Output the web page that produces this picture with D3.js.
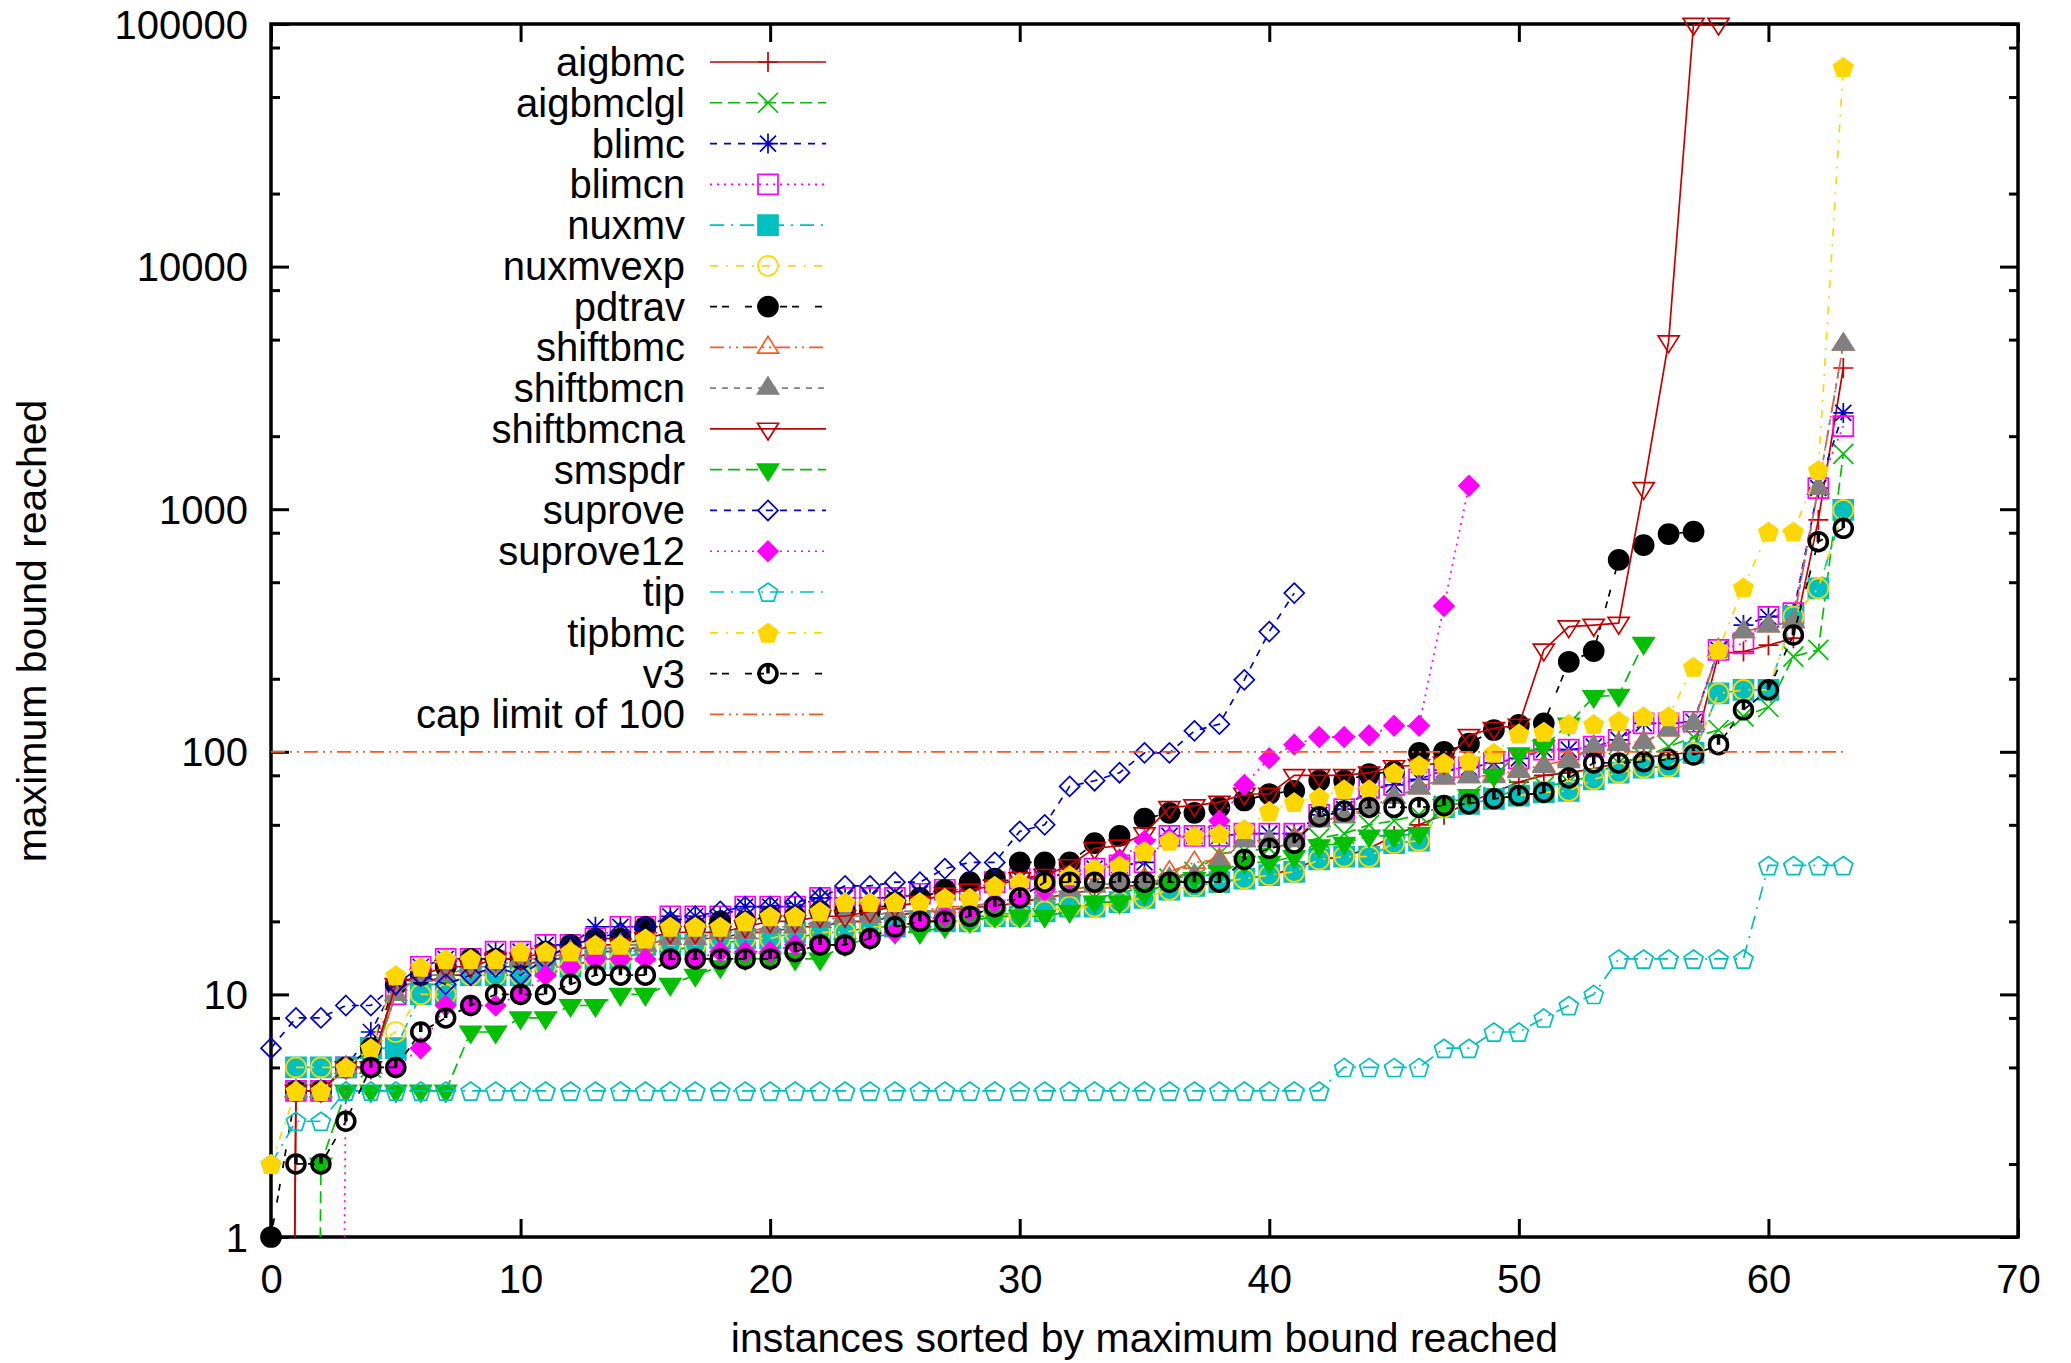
<!DOCTYPE html>
<html>
<head>
<meta charset="utf-8">
<script src="https://cdn.jsdelivr.net/npm/d3@7/dist/d3.min.js"></script>
<style>
  body { margin: 0; background: #fff; }
  svg { display: block; }
  text { font-family: "Liberation Sans", Arial, Helvetica, sans-serif; fill: #000; }
</style>
</head>
<body>
<div id="chart"></div>
<script>
// x index = instance rank; null = solver has no entry, 0 = below the axis (line drops out)
const xTicks = [0, 10, 20, 30, 40, 50, 60, 70];
const yTicks = [1, 10, 100, 1000, 10000, 100000];
const yMinorSteps = [2, 5, 8];

const aigbmc = [0, 4, 4, 5, 5, 11, 11, 12, 12, 13, 13, 14, 14, 15, 15, 16,
  17, 17, 17, 18, 18, 19, 19, 20, 20, 21, 22, 22, 23, 23, 24, 25,
  26, 27, 28, 28, 29, 29, 29, 30, 31, 33, 36, 37, 40, 45, 50, 55,
  62, 68, 75, 80, 82, 85, 90, 95, 97, 100, 253, 259, 275, 294, 903, 3820];
const aigbmclgl = [null, 4, 4, 5, 5, 10, 11, 11, 12, 12, 12, 13, 13, 14, 14, 15,
  15, 16, 16, 17, 17, 17, 18, 18, 19, 19, 20, 20, 21, 21, 22, 23,
  24, 25, 26, 28, 30, 32, 38, 39, 40, 42, 44, 46, 50, 52, 55, 60,
  62, 65, 70, 72, 75, 80, 90, 95, 105, 115, 123, 140, 153, 247, 263, 1690];
const blimc = [null, 4, 4, 5, 7, 11, 13, 14, 14, 15, 15, 16, 16, 19, 19, 19,
  21, 21, 21, 23, 23, 23, 25, 25, 25, 25, 26, 27, 27, 29, 30, 30,
  32, 33, 34, 35, 45, 45, 45, 46, 46, 46, 55, 58, 70, 73, 77, 84,
  86, 90, 94, 102, 102, 105, 112, 131, 131, 133, 263, 333, 360, 373, 1222, 2494];
const blimcn = [null, 4, 4, 5, 6, 10, 13, 14, 14, 15, 15, 16, 16, 17, 19, 19,
  21, 21, 21, 23, 23, 23, 25, 25, 25, 25, 26, 27, 27, 29, 30, 30,
  32, 33, 34, 35, 45, 45, 45, 46, 46, 46, 55, 58, 71, 73, 77, 84,
  86, 90, 94, 102, 102, 105, 112, 131, 131, 133, 263, 280, 360, 373, 1222, 2200];
const nuxmv = [null, 5, 5, 5, 6, 6, 10, 10, 12, 12, 12, 13, 13, 14, 14, 16,
  16, 16, 17, 17, 17, 18, 18, 18, 19, 19, 20, 20, 20, 21, 21, 22,
  23, 23, 24, 25, 27, 28, 29, 30, 31, 32, 36, 37, 37, 42, 43, 59,
  61, 64, 66, 68, 69, 77, 82, 86, 87, 99, 174, 180, 180, 361, 472, 993];
const nuxmvexp = [null, 5, 5, 5, 6, 7, 10, 10, 12, 12, 12, 13, 13, 14, 14, 16,
  16, 16, 17, 17, 17, 18, 18, 18, 19, 19, 20, 20, 20, 21, 21, 22,
  23, 23, 24, 25, 27, 28, 29, 30, 31, 32, 36, 37, 37, 42, 43, 59,
  61, 64, 66, 68, 69, 77, 82, 86, 87, 99, 174, 180, 180, 361, 472, 993];
const pdtrav = [1, 4, 4, 5, 6, 11, 12, 13, 14, 14, 14, 15, 16, 17, 17, 19,
  19, 19, 20, 20, 21, 21, 22, 22, 22, 24, 25, 27, 29, 30, 35, 35,
  35, 42, 45, 53, 56, 56, 59, 63, 67, 69, 76, 76, 81, 83, 99, 100,
  108, 123, 129, 131, 235, 260, 618, 711, 790, 808];
const shiftbmc = [null, 4, 4, 5, 5, 10, 12, 12, 13, 13, 14, 14, 15, 15, 16, 16,
  17, 17, 18, 18, 19, 19, 20, 21, 21, 22, 22, 23, 23, 24, 25, 26,
  27, 28, 29, 30, 32, 35, 36, 43, 43, 44, 52, 54, 59, 65, 71, 78,
  79, 80, 84, 88, 93, 105, 108, 110, 123, 131, 263, 313, 330, 344, 1222, 4786];
const shiftbmcn = [null, 4, 4, 5, 5, 10, 12, 12, 13, 13, 14, 14, 15, 15, 16, 16,
  17, 17, 18, 18, 19, 19, 20, 21, 21, 22, 22, 22, 23, 24, 25, 26,
  27, 28, 29, 29, 30, 31, 35, 43, 43, 43, 52, 54, 59, 65, 71, 78,
  79, 79, 83, 87, 91, 105, 107, 109, 123, 131, 263, 313, 330, 344, 1222, 4786];
const shiftbmcna = [0, 4, 4, 5, 5, 11, 12, 13, 13, 14, 14, 15, 15, 16, 16, 17,
  18, 18, 18, 19, 20, 20, 21, 21, 22, 23, 24, 26, 27, 28, 30, 31,
  34, 40, 41, 46, 59, 60, 62, 67, 67, 80, 80, 80, 82, 87, 88, 90,
  117, 125, 129, 263, 328, 333, 339, 1219, 4906, 100000, 100000];
const smspdr = [0, 0, 2, 4, 4, 4, 4, 4, 7, 7, 8, 8, 9, 9, 10, 10,
  11, 12, 13, 14, 14, 14, 14, 16, 17, 18, 18, 19, 20, 21, 21, 21,
  22, 24, 24, 26, 29, 30, 32, 35, 35, 37, 41, 42, 45, 45, 46, 60,
  66, 80, 98, 105, 130, 169, 171, 280];
const suprove = [6, 8, 8, 9, 9, 11, 12, 11, 12, 13, 12, 14, 16, 17, 18, 19,
  20, 21, 22, 23, 23, 24, 25, 28, 28, 29, 29, 33, 35, 35, 47, 50,
  72, 76, 82, 99, 99, 122, 130, 198, 313, 451];
const suprove12 = [0, 0, 0, 5, 5, 5, 6, 9, 9, 9, 10, 12, 13, 14, 14, 14,
  14, 14, 15, 15, 15, 16, 16, 16, 17, 18, 20, 21, 22, 24, 25, 27,
  30, 33, 36, 43, 44, 45, 52, 73, 94, 107, 115, 115, 117, 128, 128, 399,
  1250];
const tip = [2, 3, 3, 4, 4, 4, 4, 4, 4, 4, 4, 4, 4, 4, 4, 4,
  4, 4, 4, 4, 4, 4, 4, 4, 4, 4, 4, 4, 4, 4, 4, 4,
  4, 4, 4, 4, 4, 4, 4, 4, 4, 4, 4, 5, 5, 5, 5, 6,
  6, 7, 7, 8, 9, 10, 14, 14, 14, 14, 14, 14, 34, 34, 34, 34];
const tipbmc = [2, 4, 4, 5, 6, 12, 13, 14, 14, 14, 15, 15, 15, 16, 16, 17,
  19, 19, 19, 20, 21, 21, 22, 24, 24, 24, 24, 25, 25, 28, 29, 29,
  31, 33, 34, 39, 43, 45, 46, 48, 57, 62, 65, 70, 70, 82, 88, 90,
  92, 99, 119, 121, 130, 130, 134, 140, 140, 224, 263, 476, 808, 808, 1450, 66500];
const v3 = [null, 2, 2, 3, 5, 5, 7, 8, 9, 10, 10, 10, 11, 12, 12, 12,
  14, 14, 14, 14, 14, 15, 16, 16, 17, 19, 20, 20, 21, 23, 25, 29,
  29, 29, 29, 29, 29, 29, 29, 36, 40, 42, 54, 57, 59, 59, 59, 60,
  61, 64, 66, 68, 78, 90, 90, 91, 93, 97, 107, 149, 180, 303, 735, 834];
const capX = [0, 63];
const capY = [100, 100];

const RED = '#c80000', GREEN = '#00c000', BLUE = '#0000cc', MAGENTA = '#ff00ff',
  CYAN = '#00c0c0', GOLD = '#ffd700', BLACK = '#000000', ORANGE = '#ff5722', GRAY = '#808080';

const series = [
  { name: 'aigbmc', values: aigbmc, color: RED, dash: null, mark: 'plus' },
  { name: 'aigbmclgl', values: aigbmclgl, color: GREEN, dash: '12,6', mark: 'cross' },
  { name: 'blimc', values: blimc, color: BLUE, dash: '7,7', mark: 'star' },
  { name: 'blimcn', values: blimcn, color: MAGENTA, dash: '2,5', mark: 'square' },
  { name: 'nuxmv', values: nuxmv, color: CYAN, dash: '14,7,2,7', mark: 'squareFilled' },
  { name: 'nuxmvexp', values: nuxmvexp, color: GOLD, dash: '8,8,2,8', mark: 'circle' },
  { name: 'pdtrav', values: pdtrav, color: BLACK, dash: '7,5,7,16', mark: 'circleFilled' },
  { name: 'shiftbmc', values: shiftbmc, color: ORANGE, dash: '14,5,2,5,2,5', mark: 'triUp' },
  { name: 'shiftbmcn', values: shiftbmcn, color: GRAY, dash: '6,6', mark: 'triUpFilled' },
  { name: 'shiftbmcna', values: shiftbmcna, color: RED, dash: null, mark: 'triDown' },
  { name: 'smspdr', values: smspdr, color: GREEN, dash: '12,6', mark: 'triDownFilled' },
  { name: 'suprove', values: suprove, color: BLUE, dash: '7,7', mark: 'diamond' },
  { name: 'suprove12', values: suprove12, color: MAGENTA, dash: '2,5', mark: 'diamondFilled' },
  { name: 'tip', values: tip, color: CYAN, dash: '14,7,2,7', mark: 'pentagon' },
  { name: 'tipbmc', values: tipbmc, color: GOLD, dash: '8,8,2,8', mark: 'pentagonFilled' },
  { name: 'v3', values: v3, color: BLACK, dash: '7,5,7,16', mark: 'clock' }
];

const W = 2071, H = 1363;
const plot = { left: 271, right: 2018, top: 24, bottom: 1237 };
const FONT = 40;

const svg = d3.select('#chart').append('svg')
  .attr('width', W).attr('height', H)
  .attr('viewBox', `0 0 ${W} ${H}`);

const x = d3.scaleLinear().domain([0, 70]).range([plot.left, plot.right]);
const y = d3.scaleLog().domain([1, 100000]).range([plot.bottom, plot.top]);
const yv = (v) => y(v > 0 ? v : 1e-12);

svg.append('defs').append('clipPath').attr('id', 'plotClip')
  .append('rect')
  .attr('x', plot.left).attr('y', plot.top)
  .attr('width', plot.right - plot.left).attr('height', plot.bottom - plot.top);

// axes: ticks point inwards on all four sides
const yMinor = [];
yTicks.slice(0, -1).forEach((d) => yMinorSteps.forEach((m) => yMinor.push(d * m)));

function styleAxis(g) {
  g.select('.domain').remove();
  g.selectAll('line').attr('stroke', '#000').attr('stroke-width', 3);
  g.selectAll('text')
    .attr('font-size', FONT)
    .attr('font-family', '"Liberation Sans", Arial, sans-serif')
    .attr('fill', '#000');
}

svg.append('g')
  .attr('transform', `translate(${plot.left},0)`)
  .call(d3.axisLeft(y).tickValues(yTicks).tickFormat(d3.format('d')).tickSize(-18).tickPadding(23))
  .call(styleAxis)
  .selectAll('text').attr('dy', '0.35em');
svg.append('g')
  .attr('transform', `translate(${plot.left},0)`)
  .call(d3.axisLeft(y).tickValues(yMinor).tickFormat('').tickSize(-9))
  .call(styleAxis);
svg.append('g')
  .attr('transform', `translate(${plot.right},0)`)
  .call(d3.axisRight(y).tickValues(yTicks).tickFormat('').tickSize(-18))
  .call(styleAxis);
svg.append('g')
  .attr('transform', `translate(${plot.right},0)`)
  .call(d3.axisRight(y).tickValues(yMinor).tickFormat('').tickSize(-9))
  .call(styleAxis);
svg.append('g')
  .attr('transform', `translate(0,${plot.bottom})`)
  .call(d3.axisBottom(x).tickValues(xTicks).tickFormat(d3.format('d')).tickSize(-18).tickPadding(28))
  .call(styleAxis)
  .selectAll('text').attr('dy', '0.71em');
svg.append('g')
  .attr('transform', `translate(0,${plot.top})`)
  .call(d3.axisTop(x).tickValues(xTicks).tickFormat('').tickSize(-18))
  .call(styleAxis);

svg.append('rect')
  .attr('x', plot.left).attr('y', plot.top)
  .attr('width', plot.right - plot.left).attr('height', plot.bottom - plot.top)
  .attr('fill', 'none').attr('stroke', '#000').attr('stroke-width', 3.5);

svg.append('text')
  .attr('x', (plot.left + plot.right) / 2).attr('y', 1352)
  .attr('text-anchor', 'middle').attr('font-size', 41)
  .text('instances sorted by maximum bound reached');
svg.append('text')
  .attr('transform', 'translate(46,631) rotate(-90)')
  .attr('text-anchor', 'middle').attr('font-size', 41)
  .text('maximum bound reached');

// point symbols, roughly gnuplot's pt 1..15 plus the v3 clock glyph
function poly(p, pts) {
  pts.forEach(([px, py], i) => (i ? p.lineTo(px, py) : p.moveTo(px, py)));
  p.closePath();
}
function markPath(kind) {
  const p = d3.path();
  const s = 10;
  switch (kind) {
    case 'plus':
      p.moveTo(-s, 0); p.lineTo(s, 0); p.moveTo(0, -s); p.lineTo(0, s); break;
    case 'cross':
      p.moveTo(-s, -s); p.lineTo(s, s); p.moveTo(-s, s); p.lineTo(s, -s); break;
    case 'star':
      p.moveTo(-s, 0); p.lineTo(s, 0); p.moveTo(0, -s); p.lineTo(0, s);
      p.moveTo(-s * 0.8, -s * 0.8); p.lineTo(s * 0.8, s * 0.8);
      p.moveTo(-s * 0.8, s * 0.8); p.lineTo(s * 0.8, -s * 0.8); break;
    case 'square': case 'squareFilled':
      p.rect(-s, -s, 2 * s, 2 * s); break;
    case 'circle': case 'circleFilled':
      p.moveTo(s, 0); p.arc(0, 0, s, 0, 2 * Math.PI); break;
    case 'triUp': case 'triUpFilled':
      poly(p, [[0, -11], [10.5, 5.7], [-10.5, 5.7]]); break;
    case 'triDown': case 'triDownFilled':
      poly(p, [[0, 11], [10.5, -5.7], [-10.5, -5.7]]); break;
    case 'diamond': case 'diamondFilled':
      poly(p, [[0, -s], [s, 0], [0, s], [-s, 0]]); break;
    case 'pentagon': case 'pentagonFilled':
      poly(p, d3.range(5).map((k) => {
        const a = -Math.PI / 2 + k * 2 * Math.PI / 5;
        return [s * Math.cos(a), s * Math.sin(a) + 1];
      })); break;
    case 'clock':
      p.moveTo(9, 0); p.arc(0, 0, 9, 0, 2 * Math.PI);
      p.moveTo(0, 0); p.lineTo(0, -9); break;
    default: break;
  }
  return p.toString();
}
function drawMark(g, kind, color, cx, cy) {
  const filled = /Filled$/.test(kind);
  g.append('path')
    .attr('transform', `translate(${cx},${cy})`)
    .attr('d', markPath(kind))
    .attr('fill', filled ? color : 'none')
    .attr('stroke', color)
    .attr('stroke-width', kind === 'clock' ? 3.5 : 1.7)
    .attr('stroke-linejoin', 'miter');
}

const line = d3.line()
  .defined((d) => d != null)
  .x((_, i) => x(i))
  .y((d) => yv(d));

const plotLayer = svg.append('g');
series.forEach((s) => {
  plotLayer.append('path')
    .datum(s.values)
    .attr('clip-path', 'url(#plotClip)')
    .attr('fill', 'none')
    .attr('stroke', s.color)
    .attr('stroke-width', 1.7)
    .attr('stroke-dasharray', s.dash)
    .attr('d', line);
  const marks = plotLayer.append('g');
  s.values.forEach((v, i) => {
    if (v == null || v <= 0) return;
    drawMark(marks, s.mark, s.color, x(i), y(v));
  });
});

plotLayer.append('path')
  .datum(capX.map((d, i) => [d, capY[i]]))
  .attr('fill', 'none')
  .attr('stroke', ORANGE)
  .attr('stroke-width', 1.7)
  .attr('stroke-dasharray', '14,5,2,5,2,5')
  .attr('d', d3.line().x((d) => x(d[0])).y((d) => y(d[1])));

// key, top left inside the frame
const legend = svg.append('g');
const legendRows = series.map((s) => s).concat([{ name: 'cap limit of 100', color: ORANGE, dash: '14,5,2,5,2,5', mark: null }]);
legendRows.forEach((s, i) => {
  const cy = 62 + i * 40.77;
  legend.append('text')
    .attr('x', 685).attr('y', cy + 14)
    .attr('text-anchor', 'end').attr('font-size', FONT)
    .text(s.name);
  legend.append('line')
    .attr('x1', 710).attr('x2', 826).attr('y1', cy).attr('y2', cy)
    .attr('stroke', s.color).attr('stroke-width', 1.7)
    .attr('stroke-dasharray', s.dash);
  if (s.mark) drawMark(legend, s.mark, s.color, 768, cy);
});
</script>
</body>
</html>
